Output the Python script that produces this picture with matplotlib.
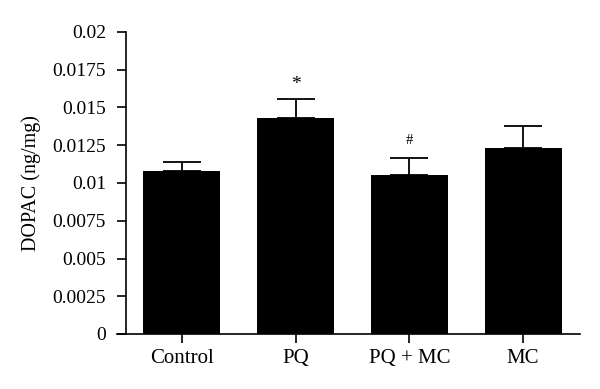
import matplotlib.pyplot as plt
import numpy as np

plt.rcParams['font.family'] = ['Liberation Serif', 'DejaVu Serif']

groups = ['Control', 'PQ', 'PQ + MC', 'MC']
means = [0.0108, 0.01432, 0.01055, 0.0123]
errors = [0.00058, 0.00126, 0.00111, 0.00145]
marks = ['', '*', '#', '']

fig = plt.figure(figsize=(6, 3.89), dpi=100)
ax = fig.add_axes([117 / 600, 55 / 389, 463 / 600, 302 / 389])

x = np.arange(len(groups))
ax.bar(x, means, width=0.675, color='black')
ax.errorbar(x, means, yerr=[np.zeros(len(errors)), errors], fmt='none',
            ecolor='black', elinewidth=1.3, capsize=13.5, capthick=1.3)

for xi, m, e, s in zip(x, means, errors, marks):
    if s == '*':
        ax.annotate(s, (xi, m + e), xytext=(0, 10), textcoords='offset points',
                    ha='center', va='center', fontsize=14)
    elif s == '#':
        ax.annotate(s, (xi, m + e), xytext=(0, 12.5), textcoords='offset points',
                    ha='center', va='center', fontsize=10.5)

ax.set_xlim(-0.57, 3.5)
ax.set_ylim(0, 0.02)
ax.spines['top'].set_visible(False)
ax.spines['right'].set_visible(False)
ax.spines['left'].set_position(('data', -0.49))
ax.spines['left'].set_linewidth(1.2)
ax.spines['bottom'].set_linewidth(1.2)

yt = np.arange(0, 0.0201, 0.0025)
ax.set_yticks(yt)
ax.set_yticklabels(['0', '0.0025', '0.005', '0.0075', '0.01', '0.0125',
                    '0.015', '0.0175', '0.02'])
ax.set_xticks(x)
ax.set_xticklabels(groups)
ax.tick_params(axis='y', labelsize=14, width=1.2, length=6.5, pad=8)
ax.tick_params(axis='x', labelsize=15, width=1.2, length=6.5, pad=4)
ax.set_ylabel('DOPAC (ng/mg)', fontsize=14.5, labelpad=8)

fig.savefig('out.png', dpi=100)
